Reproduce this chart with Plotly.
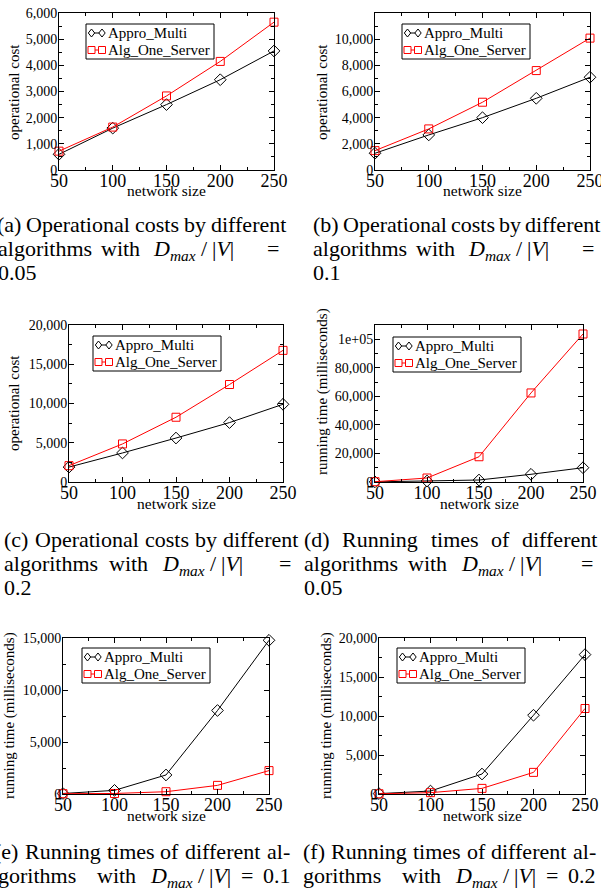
import plotly.graph_objects as go

# ---------------- data ----------------
network_size = [50, 100, 150, 200, 250]
x_tick_vals = [50, 100, 150, 200, 250]
series_names = ["Appro_Multi", "Alg_One_Server"]

# (a) operational cost, Dmax/|V| = 0.05
a_multi = [600, 1600, 2500, 3450, 4550]
a_one = [720, 1640, 2830, 4150, 5650]
# (b) operational cost, Dmax/|V| = 0.1
b_multi = [1280, 2680, 4000, 5480, 7090]
b_one = [1480, 3140, 5180, 7600, 10080]
# (c) operational cost, Dmax/|V| = 0.2
c_multi = [1900, 3700, 5600, 7570, 9900]
c_one = [2080, 4850, 8250, 12420, 16770]
# (d) running time, Dmax/|V| = 0.05
d_multi = [100, 700, 1400, 5400, 10000]
d_one = [200, 2800, 17700, 62400, 103700]
# (e) running time, Dmax/|V| = 0.1
e_multi = [50, 350, 1830, 8030, 14780]
e_one = [30, 50, 220, 830, 2250]
# (f) running time, Dmax/|V| = 0.2
f_multi = [50, 380, 2560, 10100, 17870]
f_one = [30, 170, 720, 2770, 10960]

a_yticks = [0, 1000, 2000, 3000, 4000, 5000, 6000]
b_yticks = [0, 2000, 4000, 6000, 8000, 10000]
c_yticks = [0, 5000, 10000, 15000, 20000]
d_yticks = [0, 20000, 40000, 60000, 80000, 100000]
d_ytick_labels = ["0", "20,000", "40,000", "60,000", "80,000", "1e+05"]
e_yticks = [0, 5000, 10000, 15000]
f_yticks = [0, 5000, 10000, 15000, 20000]

# ---------------- layout helpers ----------------
W, H = 601, 888
FONT = "Liberation Serif"
BLACK = "#000000"
RED = "#ff0000"


def px_x(v):
    return v / W


def px_y(v):
    return 1 - v / H


panels = [
    dict(box=(59, 274, 13, 170), multi=a_multi, one=a_one, yrange=[0, 6000],
         yticks=a_yticks, ylabels=None, minor=500, ytitle="operational cost",
         ytpos=(14, 92), xtpos=191, leg=(86, 24)),
    dict(box=(375, 590, 13, 170), multi=b_multi, one=b_one, yrange=[0, 12000],
         yticks=b_yticks, ylabels=None, minor=1000, ytitle="operational cost",
         ytpos=(322, 92), xtpos=191, leg=(402, 24)),
    dict(box=(69, 283, 325, 482), multi=c_multi, one=c_one, yrange=[0, 20000],
         yticks=c_yticks, ylabels=None, minor=2500, ytitle="operational cost",
         ytpos=(14, 403), xtpos=503, leg=(93, 336)),
    dict(box=(375, 583, 325, 482), multi=d_multi, one=d_one, yrange=[0, 110000],
         yticks=d_yticks, ylabels=d_ytick_labels, minor=10000,
         ytitle="running time (milliseconds)",
         ytpos=(323, 392), xtpos=503, leg=(393, 337)),
    dict(box=(63, 269, 638, 794), multi=e_multi, one=e_one, yrange=[0, 15000],
         yticks=e_yticks, ylabels=None, minor=2500,
         ytitle="running time (milliseconds)",
         ytpos=(9, 716), xtpos=815, leg=(82, 648)),
    dict(box=(379, 585, 638, 794), multi=f_multi, one=f_one, yrange=[0, 20000],
         yticks=f_yticks, ylabels=None, minor=2500,
         ytitle="running time (milliseconds)",
         ytpos=(326, 716), xtpos=815, leg=(397, 648)),
]

fig = go.Figure()
annotations = []
shapes = []
layout_updates = {}

LEG_W, LEG_H = 128, 35
LEG_ROWS = [9, 26]          # row centres below legend top
LEG_MK = [5.5, 16]          # glyph marker centres right of legend left
LEG_TXT = 21                # text start right of legend left


def diamond_path(cx, cy, r):
    pts = [(cx, cy - r), (cx + r * 0.8, cy), (cx, cy + r), (cx - r * 0.8, cy)]
    return "M " + " L ".join(f"{px_x(a):.5f},{px_y(b):.5f}" for a, b in pts) + " Z"


for i, p in enumerate(panels, start=1):
    sfx = "" if i == 1 else str(i)
    l, r, t, b = p["box"]
    for name, vals, color, sym, msize in [
        (series_names[0], p["multi"], BLACK, "diamond-open", 9),
        (series_names[1], p["one"], RED, "square-open", 8),
    ]:
        fig.add_trace(go.Scatter(
            x=network_size, y=vals, name=name, mode="lines+markers",
            xaxis="x" + sfx, yaxis="y" + sfx, showlegend=False,
            line=dict(color=color, width=1),
            marker=dict(symbol=sym, size=msize, color=color,
                        line=dict(color=color, width=1)),
            cliponaxis=False,
        ))
    common = dict(showline=True, linecolor=BLACK, linewidth=1, mirror="ticks",
                  ticks="inside", ticklen=5, tickwidth=1, tickcolor=BLACK,
                  showgrid=False, zeroline=False, automargin=False,
                  ticklabeloverflow="allow")
    layout_updates["xaxis" + sfx] = dict(
        domain=[px_x(l), px_x(r)], anchor="y" + sfx, range=[50, 250],
        tickmode="array", tickvals=x_tick_vals,
        ticktext=[str(v) for v in x_tick_vals],
        tickfont=dict(family=FONT, size=18, color=BLACK),
        ticklabelstandoff=-6,
        minor=dict(ticks="inside", ticklen=3, tickcolor=BLACK, tick0=0,
                   dtick=25, showgrid=False),
        **common)
    ylabels = p["ylabels"] or [f"{v:,}" for v in p["yticks"]]
    layout_updates["yaxis" + sfx] = dict(
        domain=[px_y(b), px_y(t)], anchor="x" + sfx, range=p["yrange"],
        tickmode="array", tickvals=p["yticks"], ticktext=ylabels,
        tickfont=dict(family=FONT, size=14, color=BLACK),
        ticklabelstandoff=-2,
        minor=dict(ticks="inside", ticklen=3, tickcolor=BLACK, tick0=0,
                   dtick=p["minor"], showgrid=False),
        **common)

    # ---- custom legend box ----
    lx, ly = p["leg"]
    shapes.append(dict(type="rect", xref="paper", yref="paper",
                       x0=px_x(lx), x1=px_x(lx + LEG_W),
                       y0=px_y(ly + LEG_H), y1=px_y(ly),
                       line=dict(color=BLACK, width=1), fillcolor="white",
                       layer="above"))
    for row, (name, color, kind) in enumerate([
            (series_names[0], BLACK, "diamond"),
            (series_names[1], RED, "square")]):
        cy = ly + LEG_ROWS[row]
        shapes.append(dict(type="line", xref="paper", yref="paper",
                           x0=px_x(lx + LEG_MK[0]), x1=px_x(lx + LEG_MK[1]),
                           y0=px_y(cy), y1=px_y(cy),
                           line=dict(color=color, width=1), layer="above"))
        for mx in LEG_MK:
            cx = lx + mx
            if kind == "diamond":
                shapes.append(dict(type="path", xref="paper", yref="paper",
                                   path=diamond_path(cx, cy, 4),
                                   line=dict(color=color, width=1),
                                   fillcolor="white", layer="above"))
            else:
                shapes.append(dict(type="rect", xref="paper", yref="paper",
                                   x0=px_x(cx - 3.5), x1=px_x(cx + 3.5),
                                   y0=px_y(cy + 3.5), y1=px_y(cy - 3.5),
                                   line=dict(color=color, width=1),
                                   fillcolor="white", layer="above"))
        annotations.append(dict(
            x=px_x(lx + LEG_TXT), y=px_y(cy), xref="paper", yref="paper",
            text=name, showarrow=False, xanchor="left", yanchor="middle",
            borderpad=0, font=dict(family=FONT, size=15, color=BLACK)))

    # axis titles
    tx, ty = p["ytpos"]
    annotations.append(dict(
        x=px_x(tx), y=px_y(ty), xref="paper", yref="paper", text=p["ytitle"],
        textangle=-90, showarrow=False, xanchor="center", yanchor="middle",
        font=dict(family=FONT, size=15, color=BLACK)))
    annotations.append(dict(
        x=px_x((l + r) / 2), y=px_y(p["xtpos"]), xref="paper", yref="paper",
        text="network size", showarrow=False, xanchor="center",
        yanchor="middle", font=dict(family=FONT, size=15.5, color=BLACK)))

# ---------------- captions ----------------
CW = {'(': .333, ')': .333, 'a': .444, 'b': .5, 'c': .444, 'd': .5, 'e': .444,
      'f': .333, 'g': .5, 'h': .5, 'i': .278, 'l': .278, 'm': .778, 'n': .5,
      'o': .5, 'p': .5, 'r': .333, 's': .389, 't': .278, 'u': .5, 'v': .5,
      'w': .722, 'y': .5, 'O': .722, 'R': .667, '.': .25, '-': .333,
      '=': .564, ' ': .25}
for dgt in "0123456789":
    CW[dgt] = .5
DV = "@DV"
# the math expression D_max/|V| as three pieces with offsets from its start
DV_PARTS = [
    ("<i>D</i><sub><i>max</i></sub>", 0),
    ("/", 48),
    ("|<i>V</i>|", 59),
]
CAP_FS = 22
LINE_H = 24


def word_w(wd):
    return sum(CW.get(c, .5) for c in wd) * CAP_FS


# each line: ("J", left, right, words) -> justified between left and right
#            ("P", [(word, x), ...])   -> words at given x positions
captions = [
    (233, [("J", -4, 286, ["(a)", "Operational", "costs", "by", "different"]),
           ("P", [("algorithms", -3), ("with", 100), (DV, 152), ("=", 266)]),
           ("P", [("0.05", -3)])]),
    (233, [("J", 312, 600, ["(b)", "Operational", "costs", "by", "different"]),
           ("P", [("algorithms", 312), ("with", 415), (DV, 467), ("=", 581)]),
           ("P", [("0.1", 312)])]),
    (548, [("J", 3, 298, ["(c)", "Operational", "costs", "by", "different"]),
           ("P", [("algorithms", 3), ("with", 108), (DV, 161), ("=", 278)]),
           ("P", [("0.2", 3)])]),
    (548, [("J", 303, 597, ["(d)", "Running", "times", "of", "different"]),
           ("P", [("algorithms", 303), ("with", 407), (DV, 460), ("=", 580)]),
           ("P", [("0.05", 303)])]),
    (860, [("J", -7, 289, ["(e)", "Running", "times", "of", "different", "al-"]),
           ("P", [("gorithms", -3), ("with", 96), (DV, 149), ("=", 240),
                  ("0.1", 262)])]),
    (860, [("J", 302, 595, ["(f)", "Running", "times", "of", "different", "al-"]),
           ("P", [("gorithms", 302), ("with", 401), (DV, 454), ("=", 545),
                  ("0.2", 567)])]),
]

ASC = 0.891 * CAP_FS + 2


def add_caption_text(text, xpos, base):
    annotations.append(dict(
        x=px_x(xpos), y=px_y(base - ASC), xref="paper", yref="paper",
        text=text, showarrow=False, xanchor="left", yanchor="top",
        borderpad=0, font=dict(family=FONT, size=CAP_FS, color=BLACK)))


for base0, lines in captions:
    for li, line in enumerate(lines):
        base = base0 + li * LINE_H
        if line[0] == "J":
            _, left, right, words = line
            widths = [word_w(w) for w in words]
            gap = (right - left - sum(widths)) / (len(words) - 1)
            placed = []
            xpos = left
            for wd, wdw in zip(words, widths):
                placed.append((wd, xpos))
                xpos += wdw + gap
        else:
            placed = line[1]
        for wd, xpos in placed:
            if wd == DV:
                for txt, off in DV_PARTS:
                    add_caption_text(txt, xpos + off, base)
            else:
                add_caption_text(wd, xpos, base)

fig.update_layout(
    width=W, height=H, margin=dict(l=0, r=0, t=0, b=0, autoexpand=False),
    paper_bgcolor="white", plot_bgcolor="white", showlegend=False,
    font=dict(family=FONT, color=BLACK),
    annotations=annotations, shapes=shapes, **layout_updates)

fig.write_html("out.html",
               config={"displayModeBar": False},
               post_script="document.body.style.margin='0';"
                           "document.body.style.overflow='hidden';")
